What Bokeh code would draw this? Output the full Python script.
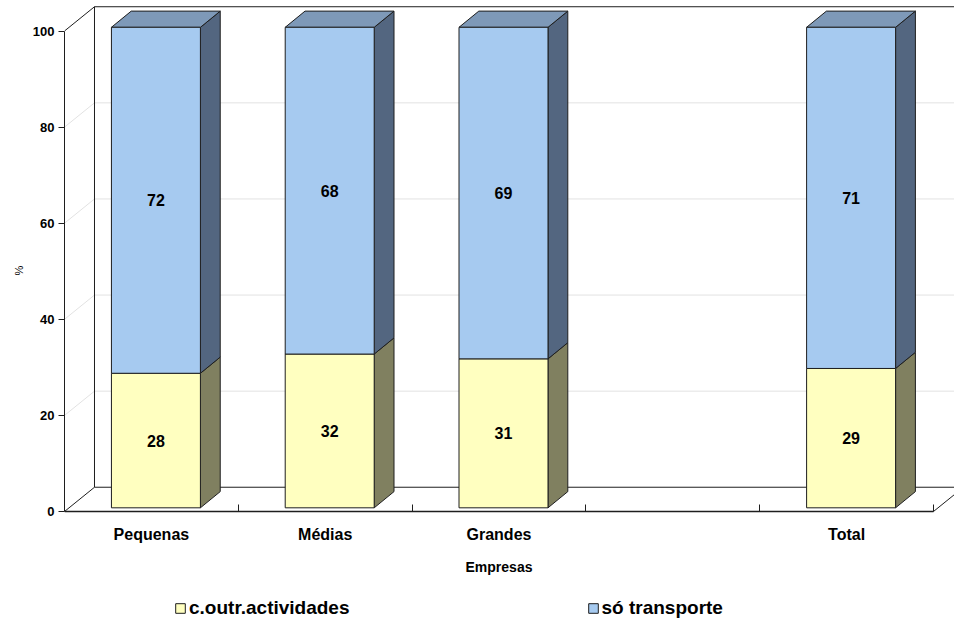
from bokeh.plotting import figure
from bokeh.models import Range1d, FixedTicker, Legend, LegendItem, Title
from bokeh.core.properties import value
from bokeh.embed import file_html
from bokeh.resources import INLINE

# ---- data -------------------------------------------------------------
categories = ["Pequenas", "Médias", "Grandes", "", "Total"]
bar_slots = [0, 1, 2, 4]                 # slot 3 is left empty
outras_actividades = [28, 32, 31, 29]    # c.outr.actividades (%)
so_transporte = [72, 68, 69, 71]         # só transporte (%)
series_names = ["c.outr.actividades", "só transporte"]
y_ticks = [0, 20, 40, 60, 80, 100]

# ---- styling / 3-D geometry (data units) ------------------------------
FONT = "Liberation Sans"
EDGE = "#1e1e1e"
X_MAX = 5.121
Y_MIN, Y_MAX = -22.89, 106.35
WALL_DX, WALL_DY = 0.1726, 5.05      # depth of the back wall
FRONT_DX, FRONT_DY = 0.026, 0.77     # bar front face offset
BACK_DX, BACK_DY = 0.140, 4.14       # bar back face offset
BAR_W = 0.512

colors = {
    "low_front": "#FFFFC0", "low_side": "#808060",
    "high_front": "#A6CAF0", "high_side": "#536680", "high_top": "#7E99B8",
}

p = figure(width=954, height=621, x_range=Range1d(0, X_MAX), y_range=Range1d(Y_MIN, Y_MAX),
           output_backend="svg", toolbar_location=None,
           min_border_left=64, min_border_right=0, min_border_top=0, min_border_bottom=0)
p.outline_line_color = None
p.xgrid.visible = False
p.ygrid.visible = False
p.background_fill_color = "white"

# ---- walls and grid ---------------------------------------------------
grid_xs, grid_ys = [], []
for v in y_ticks[1:-1]:
    grid_xs.append([0, WALL_DX, X_MAX])
    grid_ys.append([v, v + WALL_DY, v + WALL_DY])
p.multi_line(grid_xs, grid_ys, line_color="#E2E2E2", line_width=1)

n_slots = len(categories)
wall_xs = [
    [WALL_DX, WALL_DX],                       # back wall left edge
    [WALL_DX, X_MAX],                         # back wall top
    [WALL_DX, X_MAX],                         # back floor edge
    [0, WALL_DX],                             # floor left diagonal
    [0, WALL_DX],                             # top left diagonal
    [n_slots, n_slots + WALL_DX],             # floor right diagonal
]
wall_ys = [
    [WALL_DY, y_ticks[-1] + WALL_DY],
    [y_ticks[-1] + WALL_DY, y_ticks[-1] + WALL_DY],
    [WALL_DY, WALL_DY],
    [0, WALL_DY],
    [y_ticks[-1], y_ticks[-1] + WALL_DY],
    [0, WALL_DY],
]
p.multi_line(wall_xs, wall_ys, line_color=EDGE, line_width=1)

# ---- 3-D stacked bars -------------------------------------------------
def faces(x0, x1, y0, y1):
    front = ([x0 + FRONT_DX, x1 + FRONT_DX, x1 + FRONT_DX, x0 + FRONT_DX],
             [y0 + FRONT_DY, y0 + FRONT_DY, y1 + FRONT_DY, y1 + FRONT_DY])
    side = ([x1 + FRONT_DX, x1 + BACK_DX, x1 + BACK_DX, x1 + FRONT_DX],
            [y0 + FRONT_DY, y0 + BACK_DY, y1 + BACK_DY, y1 + FRONT_DY])
    top = ([x0 + FRONT_DX, x0 + BACK_DX, x1 + BACK_DX, x1 + FRONT_DX],
           [y1 + FRONT_DY, y1 + BACK_DY, y1 + BACK_DY, y1 + FRONT_DY])
    return front, side, top

layers = {k: ([], []) for k in ["low_front", "low_side", "high_front", "high_side", "high_top"]}
lab_x, lab_y, lab_t = [], [], []
for slot, lo, hi in zip(bar_slots, outras_actividades, so_transporte):
    cx = slot + 0.5
    x0, x1 = cx - BAR_W / 2, cx + BAR_W / 2
    f, s, _ = faces(x0, x1, 0, lo)
    for key, shape in (("low_front", f), ("low_side", s)):
        layers[key][0].append(shape[0]); layers[key][1].append(shape[1])
    f, s, t = faces(x0, x1, lo, lo + hi)
    for key, shape in (("high_front", f), ("high_side", s), ("high_top", t)):
        layers[key][0].append(shape[0]); layers[key][1].append(shape[1])
    lab_x += [cx + FRONT_DX, cx + FRONT_DX]
    lab_y += [lo / 2 + FRONT_DY, lo + hi / 2 + FRONT_DY]
    lab_t += [str(lo), str(hi)]

renderers = {}
for key in ["low_side", "low_front", "high_side", "high_top", "high_front"]:
    xs, ys = layers[key]
    renderers[key] = p.patches(xs, ys, fill_color=colors[key], line_color=EDGE, line_width=1)

p.text(lab_x, lab_y, text=lab_t, text_font=value(FONT), text_font_style="bold",
       text_font_size="16px", text_align="center", text_baseline="middle", text_color="#000000")

# ---- axes -------------------------------------------------------------
ya = p.yaxis[0]
ya.ticker = FixedTicker(ticks=y_ticks, minor_ticks=[])
ya.bounds = (0, 100)
ya.axis_line_color = EDGE
ya.major_tick_line_color = EDGE
ya.major_tick_out = 6
ya.major_tick_in = 0
ya.minor_tick_line_color = None
ya.major_label_text_font = FONT
ya.major_label_text_font_style = "bold"
ya.major_label_text_font_size = "13px"
ya.major_label_text_color = "#000000"
ya.major_label_standoff = 4

# "%" unit label, centred beside the 0-100 span of the value axis
p.add_layout(Title(text="%", align="left", offset=346, standoff=9,
                   text_font=FONT, text_font_style="normal", text_font_size="11px",
                   text_color="#000000"), "left")

# category axis sits on the floor line (value 0) inside the plot area
xa = p.xaxis[0]
xa.fixed_location = 0
centers = [i + 0.5 for i in range(n_slots)]
xa.ticker = FixedTicker(ticks=centers, minor_ticks=list(range(1, n_slots + 1)))
xa.bounds = (0, n_slots)
xa.major_label_overrides = {c: name for c, name in zip(centers, categories)}
xa.axis_line_color = EDGE
xa.axis_line_width = 1.5
xa.major_tick_line_color = None
xa.minor_tick_line_color = EDGE
xa.minor_tick_in = 7
xa.minor_tick_out = 0
xa.major_label_text_font = FONT
xa.major_label_text_font_style = "bold"
xa.major_label_text_font_size = "16px"
xa.major_label_text_color = "#000000"
xa.major_label_standoff = 8
xa.axis_label = "Empresas"
xa.axis_label_text_font = FONT
xa.axis_label_text_font_style = "bold"
xa.axis_label_text_font_size = "14px"
xa.axis_label_text_color = "#000000"
xa.axis_label_standoff = 13

# ---- legend -----------------------------------------------------------
legend = Legend(items=[LegendItem(label=series_names[0], renderers=[renderers["low_front"]]),
                       LegendItem(label=series_names[1], renderers=[renderers["high_front"]])],
                orientation="horizontal", location=(110, 2),
                glyph_width=12, glyph_height=12, label_standoff=3, spacing=237,
                padding=0, margin=0, border_line_color=None, background_fill_alpha=0,
                label_text_font=FONT, label_text_font_style="bold", label_text_font_size="19px",
                label_text_color="#000000")
p.add_layout(legend)

open("out.html", "w").write(file_html(p, INLINE))
